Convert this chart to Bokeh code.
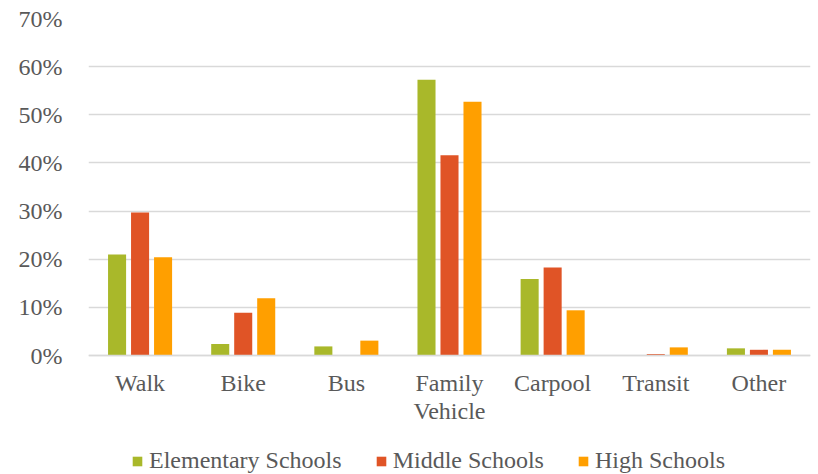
from bokeh.plotting import figure
from bokeh.models import FactorRange, ColumnDataSource, NumeralTickFormatter, Legend, LegendItem, FixedTicker, Range1d
from bokeh.transform import dodge
from bokeh.embed import file_html
from bokeh.resources import INLINE

categories = ["Walk", "Bike", "Bus", "Family\nVehicle", "Carpool", "Transit", "Other"]
elementary = [0.210, 0.024, 0.019, 0.573, 0.159, 0.000, 0.015]
middle = [0.297, 0.089, 0.001, 0.416, 0.183, 0.003, 0.012]
high = [0.204, 0.119, 0.031, 0.527, 0.094, 0.017, 0.012]
series_names = ["Elementary Schools", "Middle Schools", "High Schools"]
colors = ["#A9B82A", "#E05426", "#FF9F00"]
y_ticks = [0, 0.1, 0.2, 0.3, 0.4, 0.5, 0.6, 0.7]

FONT = "Liberation Serif"
TXT = "#595959"
FS = "24px"

src = ColumnDataSource(dict(cat=categories, e=elementary, m=middle, h=high))

# the frame extends below zero to hold the category labels and legend
p = figure(x_range=FactorRange(factors=categories), y_range=Range1d(-0.247, 0.7),
           width=813, height=474, output_backend="svg", toolbar_location=None,
           min_border_left=88, min_border_right=3, min_border_top=18, min_border_bottom=0)
p.outline_line_color = None
p.background_fill_color = "white"

renderers = []
for col, off, c in zip(["e", "m", "h"], [-0.223, 0.0, 0.223], colors):
    r = p.vbar(x=dodge("cat", off, range=p.x_range), top=col, width=0.175, source=src,
               fill_color=c, line_color=None)
    renderers.append(r)

p.yaxis.ticker = FixedTicker(ticks=y_ticks)
p.yaxis.formatter = NumeralTickFormatter(format="0%")
p.yaxis.axis_line_color = None
p.yaxis.major_tick_line_color = None
p.yaxis.minor_tick_line_color = None
p.yaxis.major_label_text_font = FONT
p.yaxis.major_label_text_font_size = FS
p.yaxis.major_label_text_color = TXT
p.yaxis.major_label_standoff = 20

p.xaxis.fixed_location = 0
p.xaxis.axis_line_color = "#D9D9D9"
p.xaxis.axis_line_width = 1.5
p.xaxis.major_tick_line_color = None
p.xaxis.minor_tick_line_color = None
p.xaxis.major_label_text_font = FONT
p.xaxis.major_label_text_font_size = FS
p.xaxis.major_label_text_color = TXT
p.xaxis.major_label_text_line_height = 1.1
p.xaxis.major_label_standoff = 8

p.xgrid.grid_line_color = None
p.ygrid.grid_line_color = "#D9D9D9"
p.ygrid.grid_line_width = 1.3

legend = Legend(items=[LegendItem(label=n, renderers=[r]) for n, r in zip(series_names, renderers)],
                orientation="horizontal", location=(43, 0))
legend.label_text_font = FONT
legend.label_text_font_size = FS
legend.label_text_color = TXT
legend.glyph_width = 12
legend.glyph_height = 12
legend.spacing = 33
legend.label_standoff = 6
legend.border_line_color = None
legend.background_fill_alpha = 0
legend.margin = 0
legend.padding = 0
p.add_layout(legend, "center")

open("out.html", "w").write(file_html(p, INLINE))
